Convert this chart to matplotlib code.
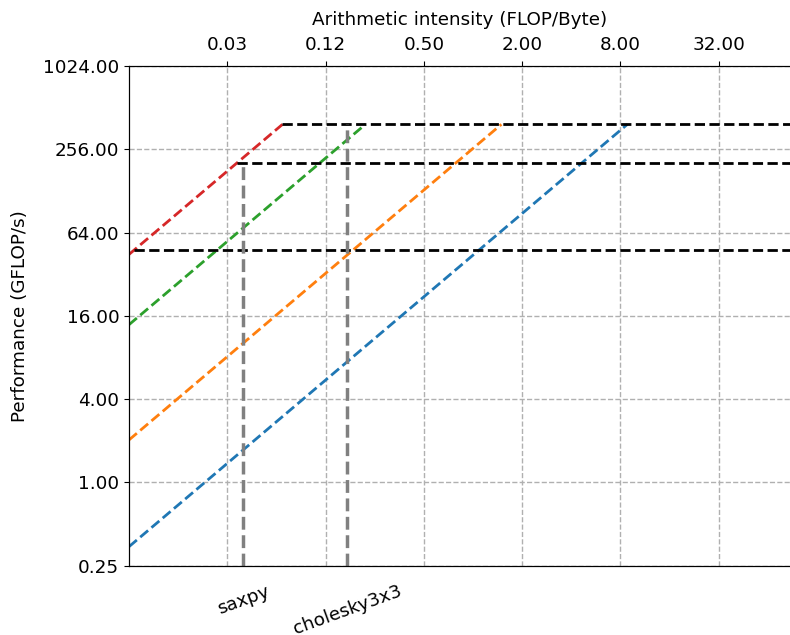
import numpy as np
import matplotlib
matplotlib.use('Agg')
import matplotlib.pyplot as plt
from matplotlib.ticker import FormatStrFormatter

# memory bandwidths (GB/s) and compute ceilings (GFLOP/s)
bandwidths = [44, 260, 1770, 5700]
bw_colors = ['tab:blue', 'tab:orange', 'tab:green', 'tab:red']
peaks = [48, 204, 388]

kernels = ['saxpy', 'cholesky3x3']
kernel_ai = [0.039, 0.17]
kernel_top = [204, 388]

xticks = [2**-5, 2**-3, 2**-1, 2**1, 2**3, 2**5]
yticks = [0.25, 1, 4, 16, 64, 256, 1024]
xmin, xmax = 2**-7, 2**6.45
ymin, ymax = 0.25, 1024

plt.rcParams['font.size'] = 13.2
fig = plt.figure(figsize=(7.9, 6.35), dpi=100)
ax = fig.add_axes([0.1633, 0.109, 0.8367, 0.787])

ax.set_xscale('log', base=2)
ax.set_yscale('log', base=2)

top = max(peaks)
for bw, c in zip(bandwidths, bw_colors):
    ax.plot([xmin, top / bw], [bw * xmin, top], '--', color=c, lw=2)

for p in peaks:
    ax.plot([p / max(bandwidths), xmax], [p, p], '--', color='black', lw=2)

for ai, t in zip(kernel_ai, kernel_top):
    ax.plot([ai, ai], [ymin, t], '--', color='gray', lw=2.5)

ax.set_xlim(xmin, xmax)
ax.set_ylim(ymin, ymax)
ax.set_yticks(yticks)
ax.yaxis.set_major_formatter(FormatStrFormatter('%.2f'))
ax.set_ylabel('Performance (GFLOP/s)', labelpad=10)
ax.spines['right'].set_visible(False)

ax2 = ax.twiny()
ax2.set_xscale('log', base=2)
ax2.set_xlim(xmin, xmax)
ax2.xaxis.tick_bottom()
ax2.set_xticks(kernel_ai)
ax2.set_xticklabels(kernels, rotation=20)
ax2.minorticks_off()
ax2.tick_params(axis='x', length=0, pad=12)
ax2.spines['right'].set_visible(False)

# numeric intensity axis on top (after twiny, which moves it to the bottom)
ax.xaxis.tick_top()
ax.xaxis.set_label_position('top')
ax.set_xticks(xticks)
ax.xaxis.set_major_formatter(FormatStrFormatter('%.2f'))
ax.minorticks_off()
ax.tick_params(axis='x', pad=5)
ax.set_xlabel('Arithmetic intensity (FLOP/Byte)', labelpad=8)
ax.grid(True, ls='--', color='#b0b0b0', lw=1)

fig.savefig('out.png', dpi=100)
